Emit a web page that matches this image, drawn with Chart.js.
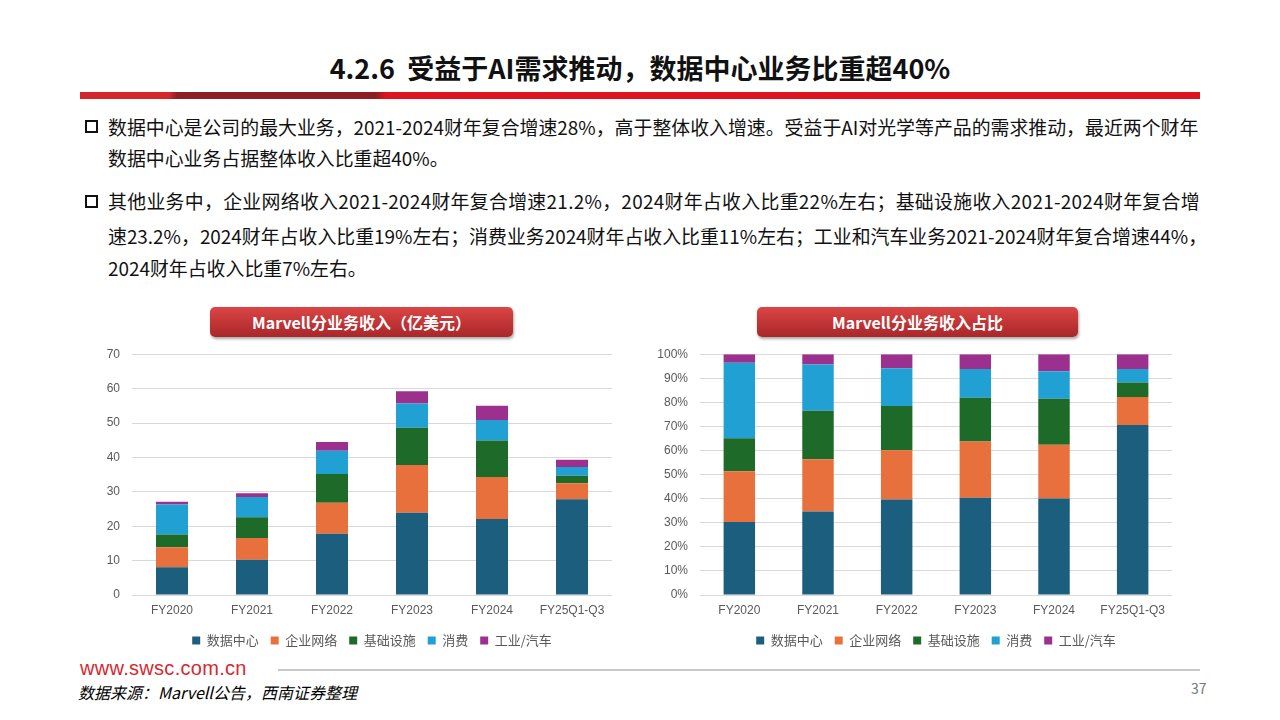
<!DOCTYPE html>
<html lang="zh-CN">
<head>
<meta charset="utf-8">
<title>Marvell 分业务收入</title>
<script src="https://cdn.jsdelivr.net/npm/chart.js@4.4.1/dist/chart.umd.min.js"></script>
<style>
 html, body { margin: 0; padding: 0; background: #fff; }
 body { width: 1280px; height: 720px; position: relative; overflow: hidden; font-family: 'Noto Sans CJK SC', sans-serif; color: #111; }
 .title { position: absolute; left: 0; width: 1280px; top: 48px; text-align: center; font-size: 27px; font-weight: bold; line-height: 40px; }
 .redbar { position: absolute; left: 80px; top: 92px; width: 1120px; height: 7px;
  background: linear-gradient(100deg, #d7262b 0px, #d7262b 88px, #8e1f20 96px, #8e1f20 292px, #e0141e 302px, #e0141e 100%); }
 .line { position: absolute; left: 108px; font-size: 18.9px; line-height: 26px; white-space: nowrap; }
 .box { position: absolute; left: 85px; width: 9px; height: 9px; border: 2px solid #111; }
 .btn { position: absolute; top: 307px; height: 30px; border-radius: 5px; color: #fff; font-size: 16px; font-weight: bold; text-align: center; line-height: 30px;
  background: linear-gradient(#dc4544, #a8272a); box-shadow: 1px 2px 3px rgba(0,0,0,0.35); }
 .wrap { position: absolute; }
 .site { position: absolute; left: 80px; top: 657px; font-family: 'Liberation Sans', Arial, sans-serif; font-size: 20px; color: #d7282f; letter-spacing: 0.3px; }
 .rule { position: absolute; left: 278px; top: 669px; width: 922px; height: 2px; background: #c9c9c9; }
 .source { position: absolute; left: 78px; top: 680px; font-size: 16px; font-style: italic; color: #000; }
 .page { position: absolute; left: 1191px; top: 678px; font-size: 14px; color: #777; }
</style>
</head>
<body>
<div class="title">4.2.6&nbsp;&nbsp;受益于AI需求推动，数据中心业务比重超40%</div>
<div class="redbar"></div>

<div class="box" style="top:120px"></div>
<div class="line" style="top:114px">数据中心是公司的最大业务，2021-2024财年复合增速28%，高于整体收入增速。受益于AI对光学等产品的需求推动，最近两个财年</div>
<div class="line" style="top:145px">数据中心业务占据整体收入比重超40%。</div>
<div class="box" style="top:195px"></div>
<div class="line" style="top:188px;letter-spacing:0.3px">其他业务中，企业网络收入2021-2024财年复合增速21.2%，2024财年占收入比重22%左右；基础设施收入2021-2024财年复合增</div>
<div class="line" style="top:223px">速23.2%，2024财年占收入比重19%左右；消费业务2024财年占收入比重11%左右；工业和汽车业务2021-2024财年复合增速44%，</div>
<div class="line" style="top:255px">2024财年占收入比重7%左右。</div>

<div class="btn" style="left:210px;width:303px">Marvell分业务收入（亿美元）</div>
<div class="btn" style="left:757px;width:321px">Marvell分业务收入占比</div>

<div class="wrap" style="left:62px;top:335px;width:560px;height:322px"><canvas id="revChart"></canvas></div>
<div class="wrap" style="left:630px;top:335px;width:555px;height:322px"><canvas id="shareChart"></canvas></div>

<div class="site">www.swsc.com.cn</div>
<div class="rule"></div>
<div class="source">数据来源：Marvell公告，西南证券整理</div>
<div class="page">37</div>

<script>
// categories and series
const categories = ['FY2020', 'FY2021', 'FY2022', 'FY2023', 'FY2024', 'FY25Q1-Q3'];
const seriesNames = ['数据中心', '企业网络', '基础设施', '消费', '工业/汽车'];

// revenue, 亿美元
const dataCenterRev = [8.1, 10.25, 17.8, 23.9, 22.1, 27.8];
const enterpriseRev = [5.8, 6.35, 9.0, 13.9, 12.2, 4.7];
const infraRev = [3.7, 6.0, 8.4, 10.8, 10.6, 2.2];
const consumerRev = [8.7, 5.9, 6.7, 7.1, 6.0, 2.5];
const industrialRev = [0.8, 1.1, 2.6, 3.5, 4.1, 2.1];

// share of revenue, %
const dataCenterShare = [30.3, 34.7, 39.7, 40.4, 40.1, 70.6];
const enterpriseShare = [21.1, 21.7, 20.4, 23.35, 22.3, 11.6];
const infraShare = [13.7, 20.1, 18.4, 18.15, 19.1, 6.0];
const consumerShare = [31.3, 19.2, 15.7, 12.0, 11.4, 5.7];
const industrialShare = [3.6, 4.3, 5.8, 6.1, 7.1, 6.1];

// tick settings
const revTicks = { min: 0, max: 70, step: 10 };
const shareTicks = { min: 0, max: 100, step: 10 };

const colors = ['#1b5e7e', '#e8703c', '#1e6a28', '#21a0d3', '#9c308e'];

Chart.defaults.font.family = "'Liberation Sans', Arial, 'Noto Sans CJK SC', sans-serif";
Chart.defaults.color = '#595959';
Chart.defaults.animation = false;

function makeDatasets(seriesValues) {
 return seriesValues.map((vals, i) => ({
  label: seriesNames[i],
  data: vals,
  backgroundColor: colors[i],
  borderWidth: 0,
  barPercentage: 0.4,
  categoryPercentage: 1
 }));
}

function makeOptions(ticks, fmt) {
 return {
  responsive: true,
  maintainAspectRatio: false,
  layout: { padding: { top: 2, right: 10, left: 0, bottom: 0 } },
  plugins: {
   legend: {
    position: 'bottom',
    fullSize: false,
    labels: {
     boxWidth: 8,
     boxHeight: 8,
     padding: 12,
     color: '#595959',
     font: { size: 13, family: "'Noto Sans CJK SC', sans-serif" }
    }
   },
   tooltip: { enabled: false }
  },
  scales: {
   x: {
    stacked: true,
    grid: { display: false },
    border: { display: false },
    ticks: { font: { size: 12 }, color: '#595959', padding: 0, maxRotation: 0 },
    afterFit: function (scale) { scale.height = 27; }
   },
   y: {
    stacked: true,
    min: ticks.min,
    max: ticks.max,
    grid: { color: '#d9d9d9', lineWidth: 1, drawTicks: false },
    border: { display: false },
    ticks: {
     stepSize: ticks.step,
     padding: 12,
     font: { size: 12 },
     color: '#595959',
     callback: fmt
    },
    afterFit: function (scale) { scale.width = 70; }
   }
  }
 };
}

new Chart(document.getElementById('revChart').getContext('2d'), {
 type: 'bar',
 data: {
  labels: categories,
  datasets: makeDatasets([dataCenterRev, enterpriseRev, infraRev, consumerRev, industrialRev])
 },
 options: makeOptions(revTicks, v => v)
});

const shareOpts = makeOptions(shareTicks, v => v + '%');
shareOpts.layout.padding.right = 13;
new Chart(document.getElementById('shareChart').getContext('2d'), {
 type: 'bar',
 data: {
  labels: categories,
  datasets: makeDatasets([dataCenterShare, enterpriseShare, infraShare, consumerShare, industrialShare])
 },
 options: shareOpts
});
</script>
</body>
</html>
